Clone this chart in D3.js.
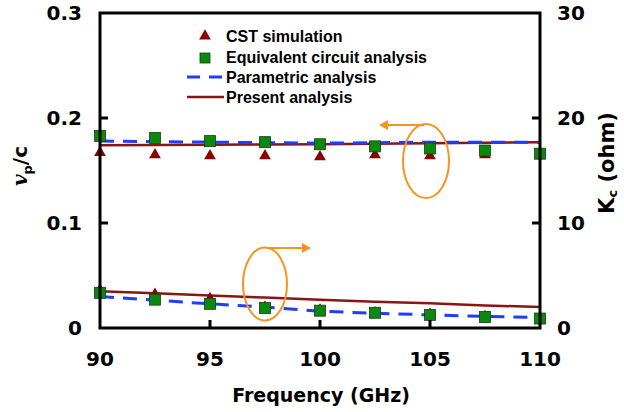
<!DOCTYPE html>
<html><head><meta charset="utf-8">
<script src="https://cdn.jsdelivr.net/npm/d3@7"></script>
<style>body{margin:0;background:#fff}svg{display:block}text{font-family:"Liberation Sans",Arial,sans-serif;font-weight:bold}.dj{font-family:"DejaVu Sans",sans-serif}</style>
</head><body><svg id="c" width="624" height="412"></svg>
<script>
// Frequency points (GHz)
const freq = [90, 92.5, 95, 97.5, 100, 102.5, 105, 107.5, 110];
const xTicks = [90, 95, 100, 105, 110];
const yTicksLeft = [0, 0.1, 0.2, 0.3];
const yTicksRight = [0, 10, 20, 30];
// Phase velocity vp/c (left axis)
const vpCST = [0.167, 0.165, 0.164, 0.164, 0.163, 0.165, 0.164, 0.165];
const vpCircuit = [0.183, 0.181, 0.178, 0.177, 0.175, 0.173, 0.171, 0.169, 0.166];
const vpParam = [0.178, 0.1775, 0.177, 0.1765, 0.176, 0.1765, 0.177, 0.177, 0.177];
const vpPresent = [0.174, 0.1742, 0.1745, 0.1748, 0.175, 0.1755, 0.176, 0.1765, 0.177];
// Interaction impedance Kc in ohm (right axis)
const kcCST = [3.6, 3.2, 2.8, 2.0, 1.7, 1.45, 1.3, 1.1];
const kcCircuit = [3.35, 2.7, 2.3, 1.9, 1.65, 1.45, 1.25, 1.05, 0.9];
const kcParam = [3.0, 2.65, 2.3, 2.0, 1.6, 1.4, 1.25, 1.1, 1.0];
const kcPresent = [3.5, 3.3, 3.1, 2.9, 2.7, 2.5, 2.35, 2.15, 2.0];

const svg = d3.select("#c");
const L = 100, R = 540, T = 13, B = 328;
const x = d3.scaleLinear().domain([90, 110]).range([L, R]);
const yL = d3.scaleLinear().domain([0, 0.3]).range([B, T]);
const yR = d3.scaleLinear().domain([0, 30]).range([B, T]);

const red = "#8b1414", blue = "#1f3cff", green = "#0a8a0a", tri = "#8b0000", orange = "#f7941d";

// lines
const lineL = d3.line().x((d, i) => x(freq[i])).y(d => yL(d));
const lineR = d3.line().x((d, i) => x(freq[i])).y(d => yR(d));
function drawLine(g, data, gen, dashed) {
  g.append("path").attr("d", gen(data)).attr("fill", "none")
    .attr("stroke", dashed ? blue : red).attr("stroke-width", dashed ? 3 : 2.5)
    .attr("stroke-dasharray", dashed ? "14,9" : null);
}
const plot = svg.append("g");
drawLine(plot, vpPresent, lineL, false);
drawLine(plot, kcPresent, lineR, false);
drawLine(plot, vpParam, lineL, true);
drawLine(plot, kcParam, lineR, true);

const triPath = d3.symbol().type(d3.symbolTriangle).size(60);
function drawTri(data, scale) {
  plot.selectAll(null).data(data).enter().append("path").attr("d", triPath)
    .attr("transform", (d, i) => `translate(${x(freq[i])},${scale(d)})`)
    .attr("fill", tri);
}
function drawSq(data, scale) {
  plot.selectAll(null).data(data).enter().append("rect")
    .attr("x", (d, i) => x(freq[i]) - 5.5).attr("y", d => scale(d) - 5.5)
    .attr("width", 11).attr("height", 11).attr("fill", green)
    .attr("stroke", "#1a3a1a").attr("stroke-width", 0.8);
}
drawTri(vpCST, yL);
drawTri(kcCST, yR);
drawSq(vpCircuit, yL);
drawSq(kcCircuit, yR);

// frame and axes
const ax = svg.append("g");
ax.append("rect").attr("x", L).attr("y", T).attr("width", R - L).attr("height", B - T)
  .attr("fill", "none").attr("stroke", "#000").attr("stroke-width", 3);
ax.selectAll(null).data(xTicks.slice(1, -1)).enter().append("line")
  .attr("x1", d => x(d)).attr("x2", d => x(d)).attr("y1", B).attr("y2", B - 8)
  .attr("stroke", "#000").attr("stroke-width", 3);
ax.selectAll(null).data(yTicksLeft.slice(1, -1)).enter().append("line")
  .attr("x1", L).attr("x2", L + 8).attr("y1", d => yL(d)).attr("y2", d => yL(d))
  .attr("stroke", "#000").attr("stroke-width", 3);
ax.selectAll(null).data(yTicksRight.slice(1, -1)).enter().append("line")
  .attr("x1", R).attr("x2", R - 8).attr("y1", d => yR(d)).attr("y2", d => yR(d))
  .attr("stroke", "#000").attr("stroke-width", 3);

ax.selectAll(null).data(xTicks).enter().append("text").attr("class", "dj")
  .attr("x", d => x(d)).attr("y", 366).attr("text-anchor", "middle")
  .attr("font-size", 20).text(d => d);
ax.selectAll(null).data(yTicksLeft).enter().append("text").attr("class", "dj")
  .attr("x", 82).attr("y", d => yL(d) + 7).attr("text-anchor", "end")
  .attr("font-size", 20).text(d => d === 0 ? "0" : d.toFixed(1));
ax.selectAll(null).data(yTicksRight).enter().append("text").attr("class", "dj")
  .attr("x", 557).attr("y", d => yR(d) + 7).attr("text-anchor", "start")
  .attr("font-size", 20).text(d => d);

svg.append("text").attr("class", "dj").attr("x", 321).attr("y", 402).attr("text-anchor", "middle")
  .attr("font-size", 19).text("Frequency (GHz)");

const yl = svg.append("text").attr("class", "dj").attr("transform", "translate(27,166) rotate(-90)")
  .attr("text-anchor", "middle").attr("font-size", 20);
yl.append("tspan").attr("font-family", "'DejaVu Serif',serif").attr("font-style", "italic").text("v");
yl.append("tspan").attr("font-size", 13).attr("dy", 5).text("p");
yl.append("tspan").attr("dy", -5).text("/c");

const yr = svg.append("text").attr("class", "dj").attr("transform", "translate(614,163) rotate(-90)")
  .attr("text-anchor", "middle").attr("font-size", 21);
yr.append("tspan").text("K");
yr.append("tspan").attr("font-size", 13).attr("dy", 3).text("c");
yr.append("tspan").attr("dy", -3).text(" (ohm)");

// legend
const lg = svg.append("g");
lg.append("path").attr("d", triPath).attr("transform", "translate(205,36)").attr("fill", tri);
lg.append("rect").attr("x", 200).attr("y", 53).attr("width", 10).attr("height", 10)
  .attr("fill", green).attr("stroke", "#1a3a1a").attr("stroke-width", 0.8);
lg.append("line").attr("x1", 187).attr("x2", 224).attr("y1", 77).attr("y2", 77)
  .attr("stroke", blue).attr("stroke-width", 3).attr("stroke-dasharray", "13,9");
lg.append("line").attr("x1", 187).attr("x2", 224).attr("y1", 97).attr("y2", 97)
  .attr("stroke", red).attr("stroke-width", 2.5);
const legendNames = ["CST simulation", "Equivalent circuit analysis", "Parametric analysis", "Present analysis"];
lg.selectAll(null).data(legendNames).enter().append("text")
  .attr("x", 226).attr("y", (d, i) => [42, 63, 83, 103][i]).attr("font-size", 16).text(d => d);

// orange annotations
const an = svg.append("g").attr("fill", "none").attr("stroke", orange).attr("stroke-width", 2);
an.append("ellipse").attr("cx", 426).attr("cy", 161).attr("rx", 23).attr("ry", 37);
an.append("line").attr("x1", 424).attr("y1", 125).attr("x2", 381).attr("y2", 125);
an.append("path").attr("d", "M388,120 L379,125 L388,130").attr("fill", orange).attr("stroke", "none");
an.append("ellipse").attr("cx", 265).attr("cy", 284).attr("rx", 22).attr("ry", 36.5);
an.append("line").attr("x1", 267).attr("y1", 248).attr("x2", 309).attr("y2", 248);
an.append("path").attr("d", "M302,243 L311,248 L302,253").attr("fill", orange).attr("stroke", "none");
</script></body></html>
